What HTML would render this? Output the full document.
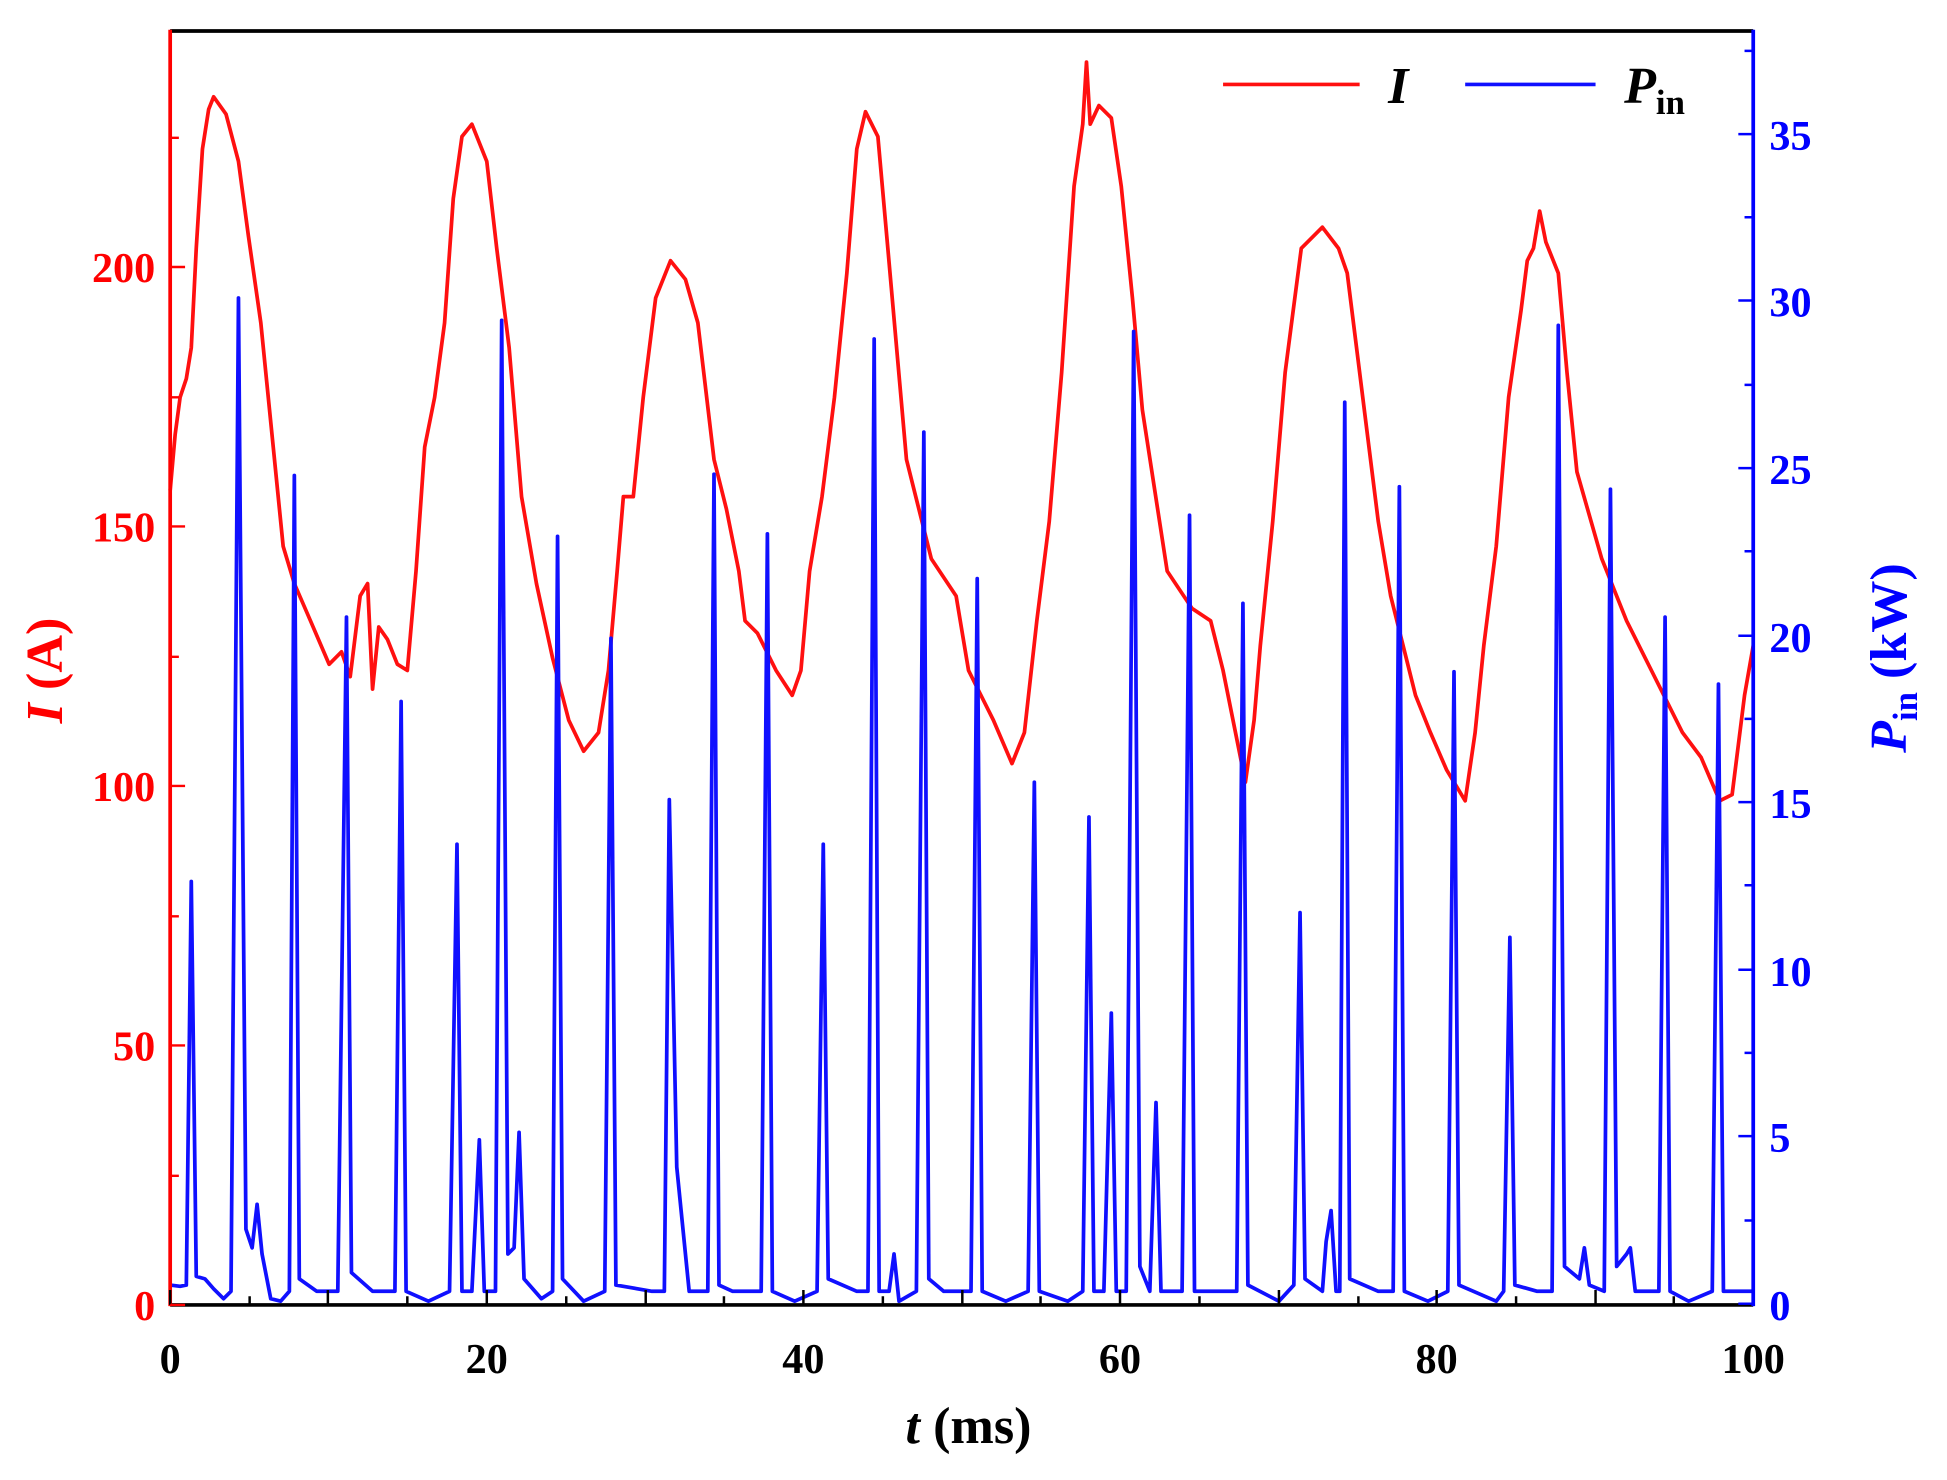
<!DOCTYPE html>
<html><head><meta charset="utf-8"><style>html,body{margin:0;padding:0;background:#fff}svg{display:block}</style></head><body>
<svg width="1947" height="1480" viewBox="0 0 1568 1192" xmlns="http://www.w3.org/2000/svg" font-family="'Liberation Serif',serif" font-weight="bold">
<rect width="1568" height="1192" fill="#fff"/>
<path fill="none" stroke="#ff1010" stroke-width="3" stroke-linejoin="round" d="M137,395 L141,350 L145,320 L150,305 L154,280 L158,200 L163,120 L168,88 L172,78 L182,92 L192,130 L200,190 L210,260 L220,360 L228,440 L237,470 L250,500 L265,535 L275,525 L282,545 L290,480 L296,470 L300,555 L305,505 L312,515 L320,535 L328,540 L335,460 L342,360 L350,320 L358,260 L365,160 L372,110 L380,100 L392,130 L400,200 L410,280 L420,400 L432,470 L445,530 L458,580 L470,605 L482,590 L490,540 L497,460 L502,400 L510,400 L518,320 L528,240 L540,210 L552,225 L562,260 L575,370 L585,410 L595,460 L600,500 L610,510 L625,540 L638,560 L645,540 L652,460 L662,400 L672,320 L682,220 L690,120 L697,90 L707,110 L715,200 L730,370 L750,450 L770,480 L780,540 L790,560 L800,580 L815,615 L825,590 L835,500 L845,420 L855,300 L865,150 L872,100 L875,50 L878,100 L885,85 L895,95 L903,150 L912,240 L920,330 L940,460 L960,490 L975,500 L985,540 L995,590 L1003,630 L1010,580 L1015,520 L1025,420 L1035,300 L1048,200 L1065,183 L1078,200 L1085,220 L1100,340 L1110,420 L1120,480 L1130,520 L1140,560 L1152,590 L1165,620 L1180,645 L1188,590 L1195,520 L1205,440 L1215,320 L1225,250 L1230,210 L1235,200 L1240,170 L1245,195 L1255,220 L1262,300 L1270,380 L1290,450 L1310,500 L1325,530 L1340,560 L1355,590 L1370,610 L1385,645 L1395,640 L1405,560 L1412,520"/>
<path fill="none" stroke="#1010ff" stroke-width="3" stroke-linejoin="round" d="M137,1035 L145,1036 L150,1035 L154,710 L158,1028 L165,1030 L172,1038 L180,1046 L186,1040 L192,240 L198,990 L203,1005 L207,970 L211,1010 L218,1046 L226,1048 L233,1040 L237,383 L241,1030 L255,1040 L272,1040 L279,497 L283,1025 L300,1040 L318,1040 L323,565 L327,1040 L345,1048 L362,1040 L368,680 L372,1040 L380,1040 L386,918 L390,1040 L399,1040 L404,258 L409,1010 L414,1005 L418,912 L422,1030 L436,1046 L445,1040 L449,432 L453,1030 L470,1048 L487,1040 L492,514 L496,1035 L525,1040 L535,1040 L539,644 L545,940 L555,1040 L570,1040 L575,382 L579,1035 L590,1040 L613,1040 L618,430 L622,1040 L640,1048 L658,1040 L663,680 L667,1030 L690,1040 L699,1040 L704,273 L708,1040 L716,1040 L720,1010 L724,1048 L738,1040 L744,348 L748,1030 L760,1040 L782,1040 L787,466 L791,1040 L810,1048 L828,1040 L833,630 L837,1040 L860,1048 L872,1040 L877,658 L881,1040 L889,1040 L895,816 L899,1040 L907,1040 L913,267 L918,1020 L926,1040 L931,888 L935,1040 L952,1040 L958,415 L962,1040 L996,1040 L1001,486 L1005,1035 L1030,1048 L1042,1035 L1047,735 L1051,1030 L1065,1040 L1068,1000 L1072,975 L1076,1040 L1079,1040 L1083,324 L1087,1030 L1110,1040 L1122,1040 L1127,392 L1131,1040 L1150,1048 L1166,1040 L1171,541 L1175,1035 L1205,1048 L1211,1040 L1216,755 L1220,1035 L1238,1040 L1250,1040 L1255,262 L1260,1020 L1272,1030 L1276,1005 L1280,1035 L1292,1040 L1297,394 L1302,1020 L1310,1010 L1313,1005 L1317,1040 L1336,1040 L1341,497 L1345,1040 L1360,1048 L1379,1040 L1384,551 L1388,1040 L1395,1040 L1412,1040"/>
<line x1="137" y1="25" x2="1412" y2="25" stroke="#000" stroke-width="3"/>
<line x1="137" y1="1051" x2="1412" y2="1051" stroke="#000" stroke-width="3"/>
<line x1="137" y1="24" x2="137" y2="1052" stroke="#ff0000" stroke-width="3"/>
<line x1="1412" y1="24" x2="1412" y2="1052" stroke="#0000ff" stroke-width="3"/>
<g stroke="#000" stroke-width="2">
<path d="M137,1051v-12M201,1051v-7M264,1051v-12M328,1051v-7M392,1051v-12M456,1051v-7M520,1051v-12M583,1051v-7M647,1051v-12M711,1051v-7M775,1051v-12M838,1051v-7M902,1051v-12M966,1051v-7M1030,1051v-12M1094,1051v-7M1157,1051v-12M1221,1051v-7M1285,1051v-12M1348,1051v-7"/>
</g>
<g stroke="#ff0000" stroke-width="2">
<path d="M137,1051h12M137,947h7M137,842h12M137,738h7M137,633h12M137,529h7M137,424h12M137,320h7M137,215h12M137,111h7"/>
</g>
<g stroke="#0000ff" stroke-width="2">
<path d="M1412,1050h-12M1412,983h-7M1412,915h-12M1412,848h-7M1412,781h-12M1412,713h-7M1412,646h-12M1412,579h-7M1412,512h-12M1412,444h-7M1412,377h-12M1412,310h-7M1412,242h-12M1412,175h-7M1412,108h-12M1412,41h-7"/>
</g>
<g fill="#ff0000" font-size="34" text-anchor="end">
<text x="125" y="1063">0</text><text x="125" y="854">50</text><text x="125" y="645">100</text><text x="125" y="436">150</text><text x="125" y="227">200</text>
</g>
<g fill="#0000ff" font-size="34" text-anchor="start">
<text x="1425" y="1063">0</text><text x="1425" y="928">5</text><text x="1425" y="794">10</text><text x="1425" y="659">15</text><text x="1425" y="525">20</text><text x="1425" y="390">25</text><text x="1425" y="255">30</text><text x="1425" y="121">35</text>
</g>
<g fill="#000" font-size="34" text-anchor="middle">
<text x="137" y="1106">0</text><text x="392" y="1106">20</text><text x="647" y="1106">40</text><text x="902" y="1106">60</text><text x="1157" y="1106">80</text><text x="1412" y="1106">100</text>
</g>
<text x="780" y="1162" font-size="42" text-anchor="middle" fill="#000"><tspan font-style="italic">t</tspan> (ms)</text>
<text transform="translate(50,540) rotate(-90)" font-size="42" text-anchor="middle" fill="#ff0000"><tspan font-style="italic">I</tspan> (A)</text>
<text transform="translate(1535,530) rotate(-90)" font-size="42" text-anchor="middle" fill="#0000ff"><tspan font-style="italic">P</tspan><tspan font-size="28" dy="9">in</tspan><tspan dy="-9"> (kW)</tspan></text>
<line x1="985" y1="68" x2="1095" y2="68" stroke="#ff1010" stroke-width="3"/>
<text x="1118" y="83" font-size="42" font-style="italic" fill="#000">I</text>
<line x1="1180" y1="68" x2="1285" y2="68" stroke="#1010ff" stroke-width="3"/>
<text x="1308" y="83" font-size="42" fill="#000"><tspan font-style="italic">P</tspan><tspan font-size="28" dy="9">in</tspan></text>
</svg>
</body></html>
